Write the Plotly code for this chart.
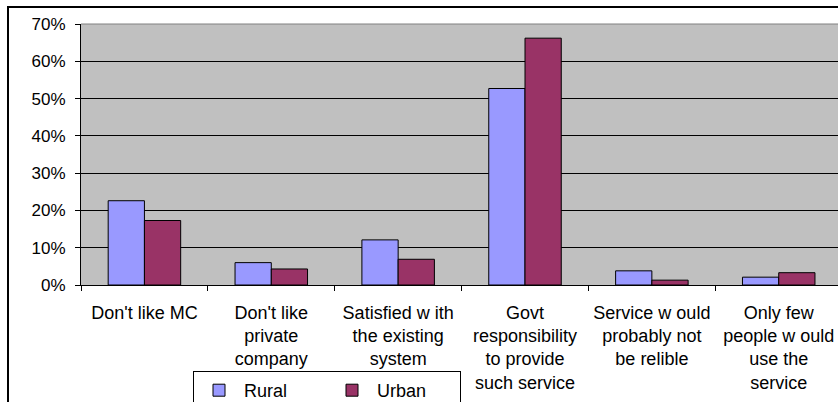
import plotly.graph_objects as go

categories = [
    "Don't like MC",
    "Don't like<br>private<br>company",
    "Satisfied w ith<br>the existing<br>system",
    "Govt<br>responsibility<br>to provide<br>such service",
    "Service w ould<br>probably not<br>be relible",
    "Only few<br>people w ould<br>use the<br>service",
]
rural = [0.226, 0.060, 0.121, 0.527, 0.038, 0.021]
urban = [0.173, 0.043, 0.069, 0.662, 0.013, 0.033]
y_ticks = [0, 0.1, 0.2, 0.3, 0.4, 0.5, 0.6, 0.7]

FONT = "Liberation Sans, Arial, sans-serif"

fig = go.Figure()
fig.add_trace(go.Bar(name="Rural", x=categories, y=rural,
                     marker=dict(color="#9999FF", line=dict(color="black", width=1))))
fig.add_trace(go.Bar(name="Urban", x=categories, y=urban,
                     marker=dict(color="#993366", line=dict(color="black", width=1))))

L, R, T, B = 81, 0, 24, 117
W, H = 838, 402
pw = W - L - R
ph = H - T - B

fig.update_layout(
    width=W, height=H,
    margin=dict(l=L, r=R, t=T, b=B, autoexpand=False),
    paper_bgcolor="white",
    plot_bgcolor="#C0C0C0",
    barmode="group",
    bargap=1.5 / 3.5,
    bargroupgap=0,
    font=dict(family=FONT, size=17, color="black"),
    showlegend=True,
    legend=dict(
        orientation="h",
        x=(193 - L) / pw, xanchor="left",
        y=-(371 - (T + ph)) / ph, yanchor="top",
        bordercolor="black", borderwidth=1,
        bgcolor="white",
        font=dict(family=FONT, size=18, color="black"),
        entrywidth=78,
        itemwidth=40,
    ),
    xaxis=dict(
        range=[-0.5, -0.5 + pw / 126.86],
        tickson="boundaries",
        ticks="outside", ticklen=5, tickcolor="black", tickwidth=1,
        showline=True, linecolor="black", linewidth=1,
        showgrid=False,
        tickangle=0,
        ticklabelstandoff=11,
        tickfont=dict(family=FONT, size=18, color="black"),
    ),
    yaxis=dict(
        range=[0, 0.7],
        tickvals=y_ticks,
        tickformat=".0%",
        ticks="outside", ticklen=5, tickcolor="black", tickwidth=1,
        showline=True, linecolor="black", linewidth=1,
        showgrid=True, gridcolor="black", gridwidth=1,
        zeroline=False,
        ticklabelstandoff=6,
        tickfont=dict(family=FONT, size=17, color="black"),
    ),
    shapes=[
        dict(type="line", xref="paper", yref="paper", x0=0, x1=1, y0=1, y1=1,
             line=dict(color="#808080", width=1), layer="above"),
        dict(type="rect", xref="paper", yref="paper",
             x0=(8 - L) / pw, x1=1.1, y0=-0.6, y1=1 + (T - 7) / ph,
             line=dict(color="black", width=2), layer="above"),
    ],
)

fig.write_html("out.html")
